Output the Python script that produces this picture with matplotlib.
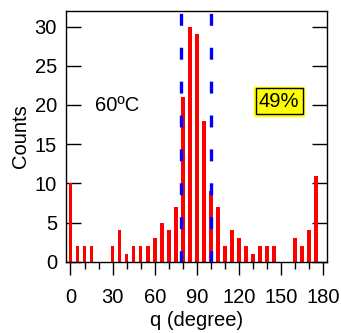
import matplotlib
matplotlib.use("Agg")
import matplotlib.pyplot as plt
import numpy as np

angles = [0, 5, 10, 15, 20, 25, 30, 35, 40, 45, 50, 55, 60, 65, 70, 75, 80, 85,
          90, 95, 100, 105, 110, 115, 120, 125, 130, 135, 140, 145, 150, 155,
          160, 165, 170, 175]
counts = [10, 2, 2, 2, 0, 0, 2, 4, 1, 2, 2, 2, 3, 5, 4, 7, 21, 30,
          29, 18, 9, 7, 2, 4, 3, 2, 1, 2, 2, 2, 0, 0,
          3, 2, 4, 11]
limit_lines = [79, 100]
x_ticks = [0, 30, 60, 90, 120, 150, 180]
y_ticks = [0, 5, 10, 15, 20, 25, 30]
temp_label = "60ºC"
pct_label = "49%"

plt.rcParams['font.family'] = ['Liberation Sans', 'DejaVu Sans']
plt.rcParams['lines.scale_dashes'] = False

FS = 14.5

fig = plt.figure(figsize=(3.41, 3.33), dpi=100)
ax = fig.add_axes([0.1935, 0.2141, 0.764, 0.753])

ax.bar(angles, counts, width=2.6, color='#ff0000', linewidth=0, zorder=2)

for xv in limit_lines:
    ax.plot([xv, xv], [32, 0], color='#0000ff', linewidth=2.4,
            linestyle=(22.7, (8.6, 15.8)), zorder=3, solid_capstyle='butt',
            dash_capstyle='butt')

ax.set_xlim(-3.2, 182.4)
ax.set_ylim(0, 32)

ax.set_xticks(x_ticks)
ax.set_xticks(np.arange(0, 181, 10), minor=True)
ax.set_yticks(y_ticks)

ax.tick_params(axis='x', which='major', direction='out', length=9.4, width=1,
               labelsize=FS, pad=9.5)
ax.tick_params(axis='x', which='minor', direction='out', length=5, width=1)
ax.tick_params(axis='y', which='major', direction='in', length=10.8, width=1,
               labelsize=FS, pad=6.5, right=True)

for s in ax.spines.values():
    s.set_linewidth(1)

ax.set_ylabel("Counts", fontsize=FS, labelpad=3)
ax.set_xlabel("q (degree)", fontsize=FS, labelpad=3)

ax.text(33, 19.9, temp_label, fontsize=FS, ha='center', va='center')
ax.text(148.6, 20.5, pct_label, fontsize=FS, ha='center', va='center',
        bbox=dict(boxstyle='square,pad=0.25', fc='#ffff00', ec='#ffff00', lw=1))
ax.text(148.6, 20.5, pct_label, fontsize=FS, ha='center', va='center',
        bbox=dict(boxstyle='square,pad=0.16', fc='#ffff00', ec='black', lw=1))

fig.savefig("out.png", dpi=100)
